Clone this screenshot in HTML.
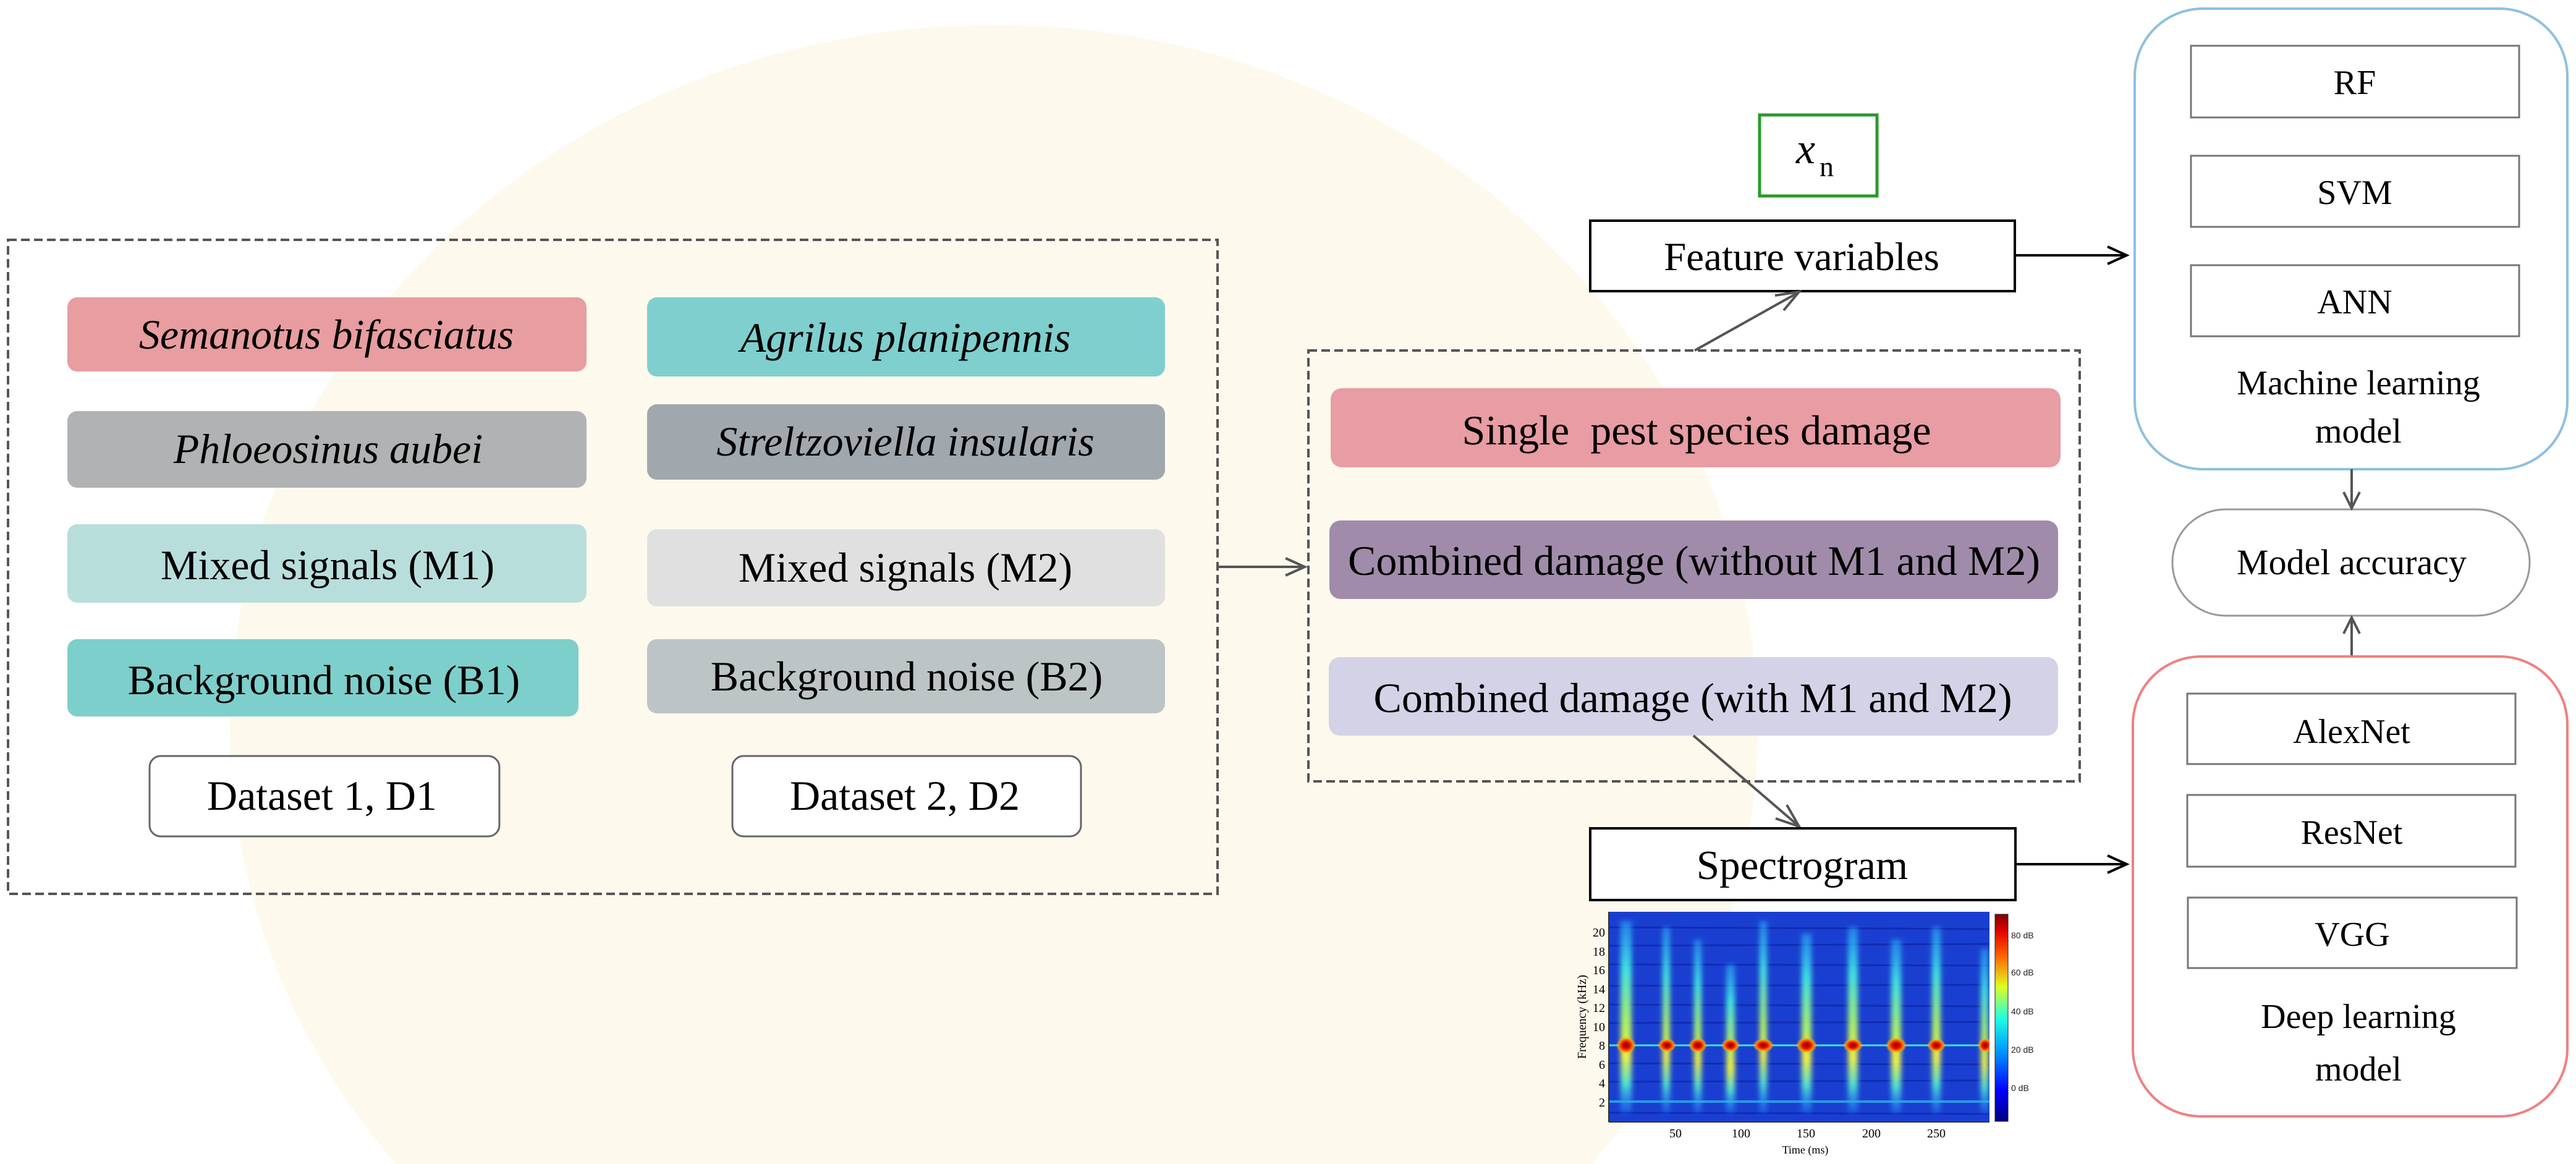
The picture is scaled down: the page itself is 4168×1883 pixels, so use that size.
<!DOCTYPE html>
<html><head><meta charset="utf-8"><style>
html,body{margin:0;padding:0;background:#fff;width:4168px;height:1883px;overflow:hidden;}
svg{display:block;overflow:hidden;}
</style></head><body>
<svg width="4168" height="1883" viewBox="0 0 4168 1883" xmlns="http://www.w3.org/2000/svg" font-family="'Liberation Serif', serif" style="font-family:'Liberation Serif',serif">
<defs>
<linearGradient id="jet" x1="0" y1="1" x2="0" y2="0">
<stop offset="0" stop-color="#00007f"/><stop offset="0.15" stop-color="#0000ff"/><stop offset="0.35" stop-color="#00a0ff"/><stop offset="0.5" stop-color="#20ffdf"/><stop offset="0.65" stop-color="#dfff20"/><stop offset="0.8" stop-color="#ff6000"/><stop offset="0.92" stop-color="#e00000"/><stop offset="1" stop-color="#7f0000"/>
</linearGradient>
<linearGradient id="streak" x1="0" y1="0" x2="0" y2="1">
<stop offset="0" stop-color="#30c0ff" stop-opacity="0.5"/><stop offset="0.25" stop-color="#40e0e0"/><stop offset="0.55" stop-color="#b0f060"/><stop offset="0.7" stop-color="#f0f040"/><stop offset="0.85" stop-color="#50e0d0"/><stop offset="1" stop-color="#2080ff" stop-opacity="0.4"/>
</linearGradient>
<radialGradient id="hot"><stop offset="0" stop-color="#900000"/><stop offset="0.4" stop-color="#e01000"/><stop offset="0.7" stop-color="#ff8000"/><stop offset="1" stop-color="#ffd000" stop-opacity="0"/></radialGradient>
<filter id="bl" x="-50%" y="-10%" width="200%" height="120%"><feGaussianBlur stdDeviation="4"/></filter>
<clipPath id="pc"><rect x="2603" y="1475" width="616" height="340"/></clipPath>
</defs>

<ellipse cx="1608" cy="1176" rx="1236" ry="1136" fill="#fdf9ec"/>

<rect x="13" y="388" width="1957" height="1058" fill="none" stroke="#555" stroke-width="4" stroke-dasharray="14 7"/>
<g>
<rect x="109" y="481" width="840" height="120" rx="16" fill="#e89da0"/>
<rect x="1047" y="481" width="838" height="128" rx="16" fill="#7fcfcf"/>
<rect x="109" y="665" width="840" height="124" rx="16" fill="#b0b2b3"/>
<rect x="1047" y="654" width="838" height="122" rx="16" fill="#a0a8ae"/>
<rect x="109" y="848" width="840" height="127" rx="16" fill="#b8dedc"/>
<rect x="1047" y="856" width="838" height="125" rx="16" fill="#e0e0e0"/>
<rect x="109" y="1034" width="827" height="125" rx="16" fill="#7dcfcb"/>
<rect x="1047" y="1034" width="838" height="120" rx="16" fill="#bcc4c6"/>
<rect x="242" y="1223" width="566" height="130" rx="18" fill="#fff" stroke="#666" stroke-width="3"/>
<rect x="1185" y="1223" width="564" height="130" rx="18" fill="#fff" stroke="#666" stroke-width="3"/>
</g>
<g font-size="68" font-family="'Liberation Serif', serif" text-anchor="middle">
<text x="528" y="564" font-style="italic">Semanotus bifasciatus</text>
<text x="1465" y="569" font-style="italic">Agrilus planipennis</text>
<text x="531" y="749" font-style="italic">Phloeosinus aubei</text>
<text x="1465" y="737" font-style="italic">Streltzoviella insularis</text>
<text x="530" y="937">Mixed signals (M1)</text>
<text x="1465" y="941">Mixed signals (M2)</text>
<text x="524" y="1123">Background noise (B1)</text>
<text x="1467" y="1117">Background noise (B2)</text>
<text x="521" y="1310">Dataset 1, D1</text>
<text x="1464" y="1310">Dataset 2, D2</text>
</g>

<g stroke="#555" stroke-width="4" fill="none">
<line x1="1970" y1="917" x2="2110" y2="917"/>
<polyline points="2080,903 2111,917 2080,931"/>
</g>

<rect x="2117" y="567" width="1248" height="697" fill="none" stroke="#555" stroke-width="4" stroke-dasharray="14 7"/>
<rect x="2153" y="628" width="1181" height="128" rx="18" fill="#e89ca3"/>
<rect x="2151" y="842" width="1179" height="127" rx="18" fill="#a08caa"/>
<rect x="2150" y="1063" width="1180" height="127" rx="18" fill="#d4d2e6"/>
<g font-size="68" font-family="'Liberation Serif', serif" text-anchor="middle">
<text x="2745" y="719" xml:space="preserve">Single  pest species damage</text>
<text x="2741" y="930">Combined damage (without M1 and M2)</text>
<text x="2739" y="1152">Combined damage (with M1 and M2)</text>
</g>

<rect x="2847" y="186" width="190" height="131" fill="#fff" stroke="#2a9a2a" stroke-width="5"/>
<text x="2906" y="264" font-size="70" font-style="italic" font-family="'Liberation Serif', serif">x</text>
<text x="2944" y="285" font-size="46" font-family="'Liberation Serif', serif">n</text>
<rect x="2573" y="357" width="687" height="114" fill="#fff" stroke="#000" stroke-width="4"/>
<text x="2915" y="437" font-size="65" text-anchor="middle" font-family="'Liberation Serif', serif">Feature variables</text>

<g stroke="#555" stroke-width="4" fill="none">
<line x1="2742" y1="567" x2="2910" y2="473"/>
<polyline points="2872,478 2911,472 2886,502"/>
<line x1="2740" y1="1190" x2="2910" y2="1336"/>
<polyline points="2873,1324 2911,1337 2891,1302"/>
</g>
<g stroke="#000" stroke-width="4" fill="none">
<line x1="3260" y1="413" x2="3440" y2="413"/>
<polyline points="3410,399 3441,413 3410,427"/>
<line x1="3261" y1="1398" x2="3440" y2="1398"/>
<polyline points="3410,1384 3441,1398 3410,1412"/>
</g>

<rect x="2573" y="1340" width="688" height="116" fill="#fff" stroke="#000" stroke-width="4"/>
<text x="2916" y="1422" font-size="67" text-anchor="middle" font-family="'Liberation Serif', serif">Spectrogram</text>

<g clip-path="url(#pc)">
<rect x="2603" y="1475" width="616" height="340" fill="#1a3fd0"/>
<g stroke="#0a20a0" stroke-width="3" opacity="0.6">
<line x1="2603" y1="1500" x2="3219" y2="1503"/><line x1="2603" y1="1530" x2="3219" y2="1527"/><line x1="2603" y1="1560" x2="3219" y2="1562"/><line x1="2603" y1="1595" x2="3219" y2="1593"/><line x1="2603" y1="1625" x2="3219" y2="1628"/><line x1="2603" y1="1655" x2="3219" y2="1653"/><line x1="2603" y1="1720" x2="3219" y2="1722"/><line x1="2603" y1="1750" x2="3219" y2="1748"/><line x1="2603" y1="1800" x2="3219" y2="1802"/>
</g>
<line x1="2603" y1="1691" x2="3219" y2="1691" stroke="#40e0e0" stroke-width="3"/>
<line x1="2603" y1="1782" x2="3219" y2="1782" stroke="#30c0f0" stroke-width="4" opacity="0.7"/>
<g filter="url(#bl)">
<rect x="2622" y="1490" width="18" height="310" fill="url(#streak)"/>
<rect x="2690" y="1500" width="12" height="300" fill="url(#streak)"/>
<rect x="2741" y="1520" width="12" height="280" fill="url(#streak)"/>
<rect x="2793" y="1560" width="14" height="240" fill="url(#streak)"/>
<rect x="2847" y="1490" width="12" height="310" fill="url(#streak)"/>
<rect x="2915" y="1510" width="16" height="290" fill="url(#streak)"/>
<rect x="2990" y="1500" width="16" height="300" fill="url(#streak)"/>
<rect x="3060" y="1520" width="16" height="280" fill="url(#streak)"/>
<rect x="3126" y="1500" width="14" height="300" fill="url(#streak)"/>
<rect x="3205" y="1535" width="12" height="265" fill="url(#streak)"/>
</g>
<g>
<ellipse cx="2631" cy="1691" rx="16" ry="14" fill="url(#hot)"/>
<ellipse cx="2697" cy="1691" rx="15" ry="11" fill="url(#hot)"/>
<ellipse cx="2747" cy="1691" rx="15" ry="12" fill="url(#hot)"/>
<ellipse cx="2800" cy="1691" rx="15" ry="11" fill="url(#hot)"/>
<ellipse cx="2853" cy="1691" rx="17" ry="11" fill="url(#hot)"/>
<ellipse cx="2923" cy="1691" rx="17" ry="13" fill="url(#hot)"/>
<ellipse cx="2998" cy="1691" rx="16" ry="11" fill="url(#hot)"/>
<ellipse cx="3068" cy="1691" rx="17" ry="13" fill="url(#hot)"/>
<ellipse cx="3133" cy="1691" rx="15" ry="11" fill="url(#hot)"/>
<ellipse cx="3212" cy="1691" rx="12" ry="12" fill="url(#hot)"/>
</g>
</g>
<rect x="3228" y="1479" width="21" height="335" fill="url(#jet)" stroke="#222" stroke-width="1"/>
<g font-size="14" fill="#222" font-family="'Liberation Sans', sans-serif">
<text x="3254" y="1518">80 dB</text>
<text x="3254" y="1578">60 dB</text>
<text x="3254" y="1641">40 dB</text>
<text x="3254" y="1703">20 dB</text>
<text x="3254" y="1765">0 dB</text>
</g>
<g font-size="20" text-anchor="end" font-family="'Liberation Serif', serif">
<text x="2597" y="1515">20</text><text x="2597" y="1546">18</text><text x="2597" y="1576">16</text><text x="2597" y="1607">14</text><text x="2597" y="1637">12</text><text x="2597" y="1668">10</text><text x="2597" y="1698">8</text><text x="2597" y="1729">6</text><text x="2597" y="1759">4</text><text x="2597" y="1790">2</text>
</g>
<g font-size="20" text-anchor="middle" font-family="'Liberation Serif', serif">
<text x="2711" y="1840">50</text><text x="2817" y="1840">100</text><text x="2922" y="1840">150</text><text x="3028" y="1840">200</text><text x="3133" y="1840">250</text>
<text x="2921" y="1866" font-size="18">Time (ms)</text>
</g>
<text transform="translate(2566,1645) rotate(-90)" font-size="20" text-anchor="middle" font-family="'Liberation Serif', serif">Frequency (kHz)</text>
<line x1="2603" y1="1815" x2="3219" y2="1815" stroke="#333" stroke-width="2"/>
<line x1="2603" y1="1475" x2="2603" y2="1815" stroke="#333" stroke-width="2"/>

<rect x="3454" y="14" width="700" height="745" rx="110" fill="#fff" stroke="#8ec0e0" stroke-width="4"/>
<g fill="#fff" stroke="#777" stroke-width="3">
<rect x="3545" y="74" width="531" height="116"/>
<rect x="3545" y="252" width="531" height="115"/>
<rect x="3545" y="429" width="531" height="115"/>
</g>
<g font-size="56" text-anchor="middle" font-family="'Liberation Serif', serif">
<text x="3810" y="152">RF</text>
<text x="3810" y="330">SVM</text>
<text x="3810" y="507">ANN</text>
<text x="3816" y="638">Machine learning</text>
<text x="3816" y="716">model</text>
</g>
<rect x="3515" y="824" width="578" height="172" rx="86" fill="#fff" stroke="#999" stroke-width="3"/>
<text x="3805" y="929" font-size="58" text-anchor="middle" font-family="'Liberation Serif', serif">Model accuracy</text>
<g stroke="#555" stroke-width="4" fill="none">
<line x1="3805" y1="759" x2="3805" y2="821"/>
<polyline points="3792,796 3805,822 3818,796"/>
<line x1="3805" y1="1062" x2="3805" y2="999"/>
<polyline points="3792,1025 3805,999 3818,1025"/>
</g>

<rect x="3451" y="1062" width="703" height="744" rx="110" fill="#fff" stroke="#f08080" stroke-width="4"/>
<g fill="#fff" stroke="#777" stroke-width="3">
<rect x="3539" y="1122" width="531" height="114"/>
<rect x="3539" y="1286" width="531" height="116"/>
<rect x="3540" y="1452" width="532" height="114"/>
</g>
<g font-size="56" text-anchor="middle" font-family="'Liberation Serif', serif">
<text x="3805" y="1202">AlexNet</text>
<text x="3805" y="1365">ResNet</text>
<text x="3806" y="1530">VGG</text>
<text x="3816" y="1663">Deep learning</text>
<text x="3816" y="1748">model</text>
</g>
</svg>
</body></html>
